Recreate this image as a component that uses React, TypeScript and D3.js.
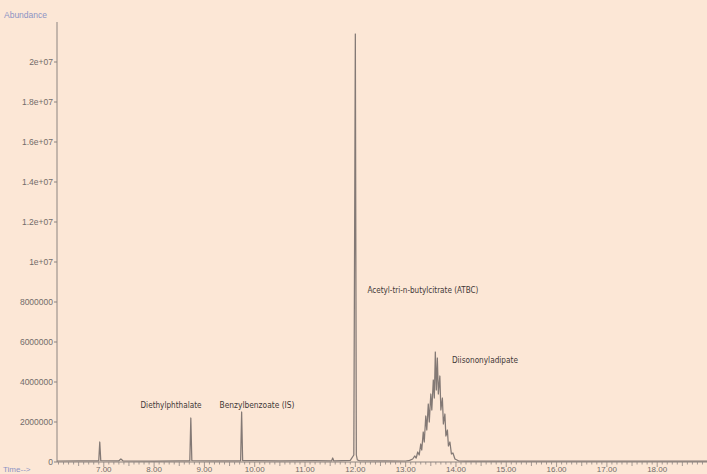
import React from 'react';
import * as d3 from 'd3';

// retention time (min) and abundance (millions)
const traceTimes = [
  6.07, 6.5, 6.9, 6.92, 6.94, 7.3, 7.34, 7.38, 8.0, 8.5, 8.71, 8.73, 8.75, 9.2,
  9.72, 9.74, 9.76, 10.5, 11.2, 11.53, 11.55, 11.57, 11.9, 11.97, 12.0, 12.02, 12.04, 12.08,
  12.6, 13.0, 13.08, 13.14, 13.18, 13.21, 13.24, 13.27, 13.3, 13.32, 13.35, 13.37, 13.4,
  13.42, 13.45, 13.47, 13.5, 13.52, 13.55, 13.57, 13.59, 13.61, 13.63, 13.65, 13.68, 13.7,
  13.73, 13.75, 13.78, 13.8, 13.83, 13.85, 13.88, 13.91, 13.94, 13.98, 14.05, 14.2, 15.0,
  16.0, 17.0, 18.0, 18.99,
];
const traceAbundance = [
  0.05, 0.06, 0.06, 1.0, 0.07, 0.06, 0.15, 0.06, 0.05, 0.06, 0.06, 2.2, 0.07, 0.06,
  0.06, 2.5, 0.07, 0.06, 0.07, 0.06, 0.2, 0.06, 0.08, 0.35, 21.4, 0.35, 0.1, 0.07,
  0.06, 0.05, 0.08, 0.15, 0.3, 0.2, 0.5, 0.35, 0.9, 0.6, 1.5, 1.0, 2.3,
  1.6, 2.9, 2.0, 3.4, 2.6, 4.1, 3.2, 5.5, 3.6, 5.2, 3.4, 4.3, 2.6,
  3.2, 1.9, 2.4, 1.3, 1.6, 0.8, 1.0, 0.4, 0.45, 0.15, 0.06, 0.04, 0.04,
  0.04, 0.04, 0.04, 0.04,
];

const yTickValues = [0, 2e6, 4e6, 6e6, 8e6, 1e7, 1.2e7, 1.4e7, 1.6e7, 1.8e7, 2e7];
const yTickLabels = ['0', '2000000', '4000000', '6000000', '8000000', '1e+07', '1.2e+07', '1.4e+07', '1.6e+07', '1.8e+07', '2e+07'];
const xTickValues = [7, 8, 9, 10, 11, 12, 13, 14, 15, 16, 17, 18];
const xTickLabels = ['7.00', '8.00', '9.00', '10.00', '11.00', '12.00', '13.00', '14.00', '15.00', '16.00', '17.00', '18.00'];

const peakNames = ['Diethylphthalate', 'Benzylbenzoate (IS)', 'Acetyl-tri-n-butylcitrate (ATBC)', 'Diisononyladipate'];
const peakLabelTime = [7.73, 9.3, 12.24, 13.92];
const peakLabelAbundance = [2.7e6, 2.7e6, 8.45e6, 4.95e6];
const peakLabelWidth = [61, 75, 111, 66];

const width = 707;
const height = 474;

export default function App() {
  const x = d3.scaleLinear().domain([6.07, 18.99]).range([57, 707]);
  const y = d3.scaleLinear().domain([0, 2e7]).range([462, 62]);

  const points = traceTimes.map((t, i) => [t, traceAbundance[i] * 1e6] as [number, number]);
  const line = d3.line<[number, number]>()
    .x(d => x(d[0]))
    .y(d => y(d[1]));

  const minorTicks = d3.range(61, 190).map(v => v / 10);
  const font = '"Liberation Sans", Arial, sans-serif';
  const axisColor = '#8c8480';
  const textColor = '#726c6a';

  return (
    <svg width={width} height={height} style={{ position: 'absolute', left: 0, top: 0, display: 'block' }}>
      <rect x={0} y={0} width={width} height={height} fill="#fce7d6" />

      {/* y axis */}
      <line x1={x(6.07)} x2={x(6.07)} y1={y(2.2e7)} y2={y(0)} stroke={axisColor} strokeWidth={1} />
      {yTickValues.map((v, i) => (
        <g key={v} transform={`translate(${x(6.07)},${y(v)})`}>
          <line x1={-3} x2={0} stroke={axisColor} />
          <text x={-4} dy="0.33em" textAnchor="end" fontFamily={font} fontSize={8.5} fill={textColor}>
            {yTickLabels[i]}
          </text>
        </g>
      ))}
      <text x={4} y={18} fontFamily={font} fontSize={8.5} fill="#8c93c4">Abundance</text>

      {/* x axis */}
      <line x1={x(6.07)} x2={x(18.99)} y1={y(0)} y2={y(0)} stroke={axisColor} strokeWidth={1} />
      {minorTicks.map(t => {
        const major = Math.abs(t - Math.round(t)) < 1e-6;
        const half = Math.abs(t * 2 - Math.round(t * 2)) < 1e-6;
        return (
          <line key={t} x1={x(t)} x2={x(t)} y1={y(0)} y2={y(0) + (major ? 5 : half ? 4 : 2.5)}
            stroke={axisColor} strokeWidth={0.8} />
        );
      })}
      {xTickValues.map((v, i) => (
        <text key={v} x={x(v)} y={472} textAnchor="middle" fontFamily={font} fontSize={8} fill={textColor}>
          {xTickLabels[i]}
        </text>
      ))}
      <text x={3} y={472} fontFamily={font} fontSize={8} fill="#8c93c4">Time--&gt;</text>

      {/* chromatogram trace */}
      <path d={line(points) || ''} fill="none" stroke="#837975" strokeWidth={1.25} strokeLinejoin="round" />

      {/* peak labels */}
      {peakNames.map((name, i) => (
        <text key={name} x={x(peakLabelTime[i])} y={y(peakLabelAbundance[i])}
          fontFamily='"DejaVu Sans Condensed", "Liberation Sans Narrow", "Liberation Sans", sans-serif'
          fontSize={9.5} fill="#3f3836" textLength={peakLabelWidth[i]} lengthAdjust="spacingAndGlyphs">
          {name}
        </text>
      ))}
    </svg>
  );
}
